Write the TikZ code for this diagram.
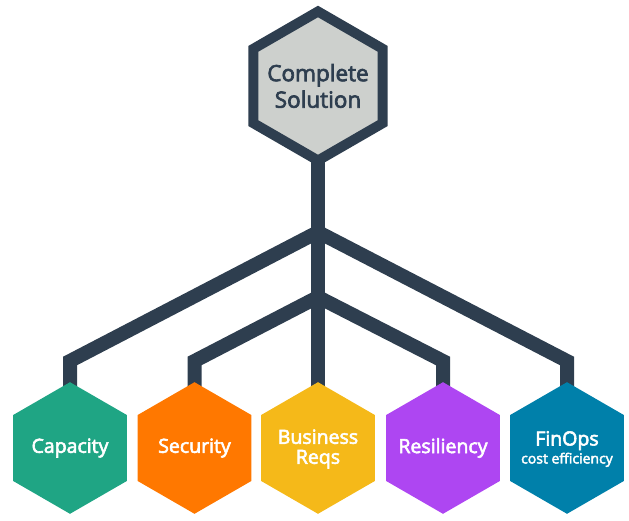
\documentclass[tikz,border=0pt]{standalone}
\usepackage{fontspec}
\setmainfont{Open Sans}
\newfontfamily\semib{Open Sans}[FakeBold=3]
\usetikzlibrary{shapes.geometric,backgrounds}
\definecolor{dark}{HTML}{2E3E4F}
\definecolor{topgray}{HTML}{CDD0CD}
\definecolor{cteal}{HTML}{1FA584}
\definecolor{corange}{HTML}{FF7800}
\definecolor{cyellow}{HTML}{F5B919}
\definecolor{cpurple}{HTML}{AE46F2}
\definecolor{cblue}{HTML}{0080AA}
\tikzset{
  hexbox/.style={regular polygon, regular polygon sides=6, shape border rotate=30,
    minimum size=131.6pt, inner sep=0pt, outer sep=0pt},
  hextext/.style={text=white, align=center, inner sep=0pt,
    font=\fontsize{19.5}{20}\selectfont\semib},
  tophex/.style={regular polygon, regular polygon sides=6, shape border rotate=30,
    minimum size=149pt, inner sep=0pt, outer sep=0pt, draw=dark, line width=10pt,
    fill=topgray, line join=miter},
  toptext/.style={text=dark, align=center, inner sep=0pt,
    font=\fontsize{22.5}{26.5}\selectfont\semib},
  tree/.style={draw=dark, line width=14pt, line join=miter, line cap=butt}
}
\begin{document}
\begin{tikzpicture}[x=1pt,y=-1pt]
\useasboundingbox (0,0) rectangle (629,521);
\node[tophex] (top) at (318,86) {};
\node[toptext] (toplbl) at (top.center) {Complete\\Solution};
\node[hexbox, fill=cteal] (cap) at (70,448) {};
\node[hexbox, fill=corange] (sec) at (194.5,448) {};
\node[hexbox, fill=cyellow] (bus) at (318,448) {};
\node[hexbox, fill=cpurple] (res) at (443,448) {};
\node[hexbox, fill=cblue] (fin) at (567,448) {};
\node[hextext] (capl) at (cap.center) {Capacity};
\node[hextext] (secl) at (sec.center) {Security};
\node[hextext] (busl) at ([yshift=-1pt]bus.center) {Business\\Reqs};
\node[hextext] (resl) at (res.center) {Resiliency};
\node[hextext] (finl) at ([yshift=-1pt]fin.center) {FinOps\\[-2pt]{\fontsize{14}{15}\selectfont cost efficiency}};
\coordinate (j1) at (318,232);
\coordinate (j2) at (318,297);
\coordinate (c1) at (70,361);
\coordinate (c2) at (194.5,361);
\coordinate (c4) at (443,361);
\coordinate (c5) at (567,361);
\begin{pgfonlayer}{background}
\draw[tree] (top.center) -- (bus.center);
\draw[tree] (j1) -- (c1) -- (cap.center);
\draw[tree] (j2) -- (c2) -- (sec.center);
\draw[tree] (j2) -- (c4) -- (res.center);
\draw[tree] (j1) -- (c5) -- (fin.center);
\end{pgfonlayer}
\end{tikzpicture}
\end{document}
